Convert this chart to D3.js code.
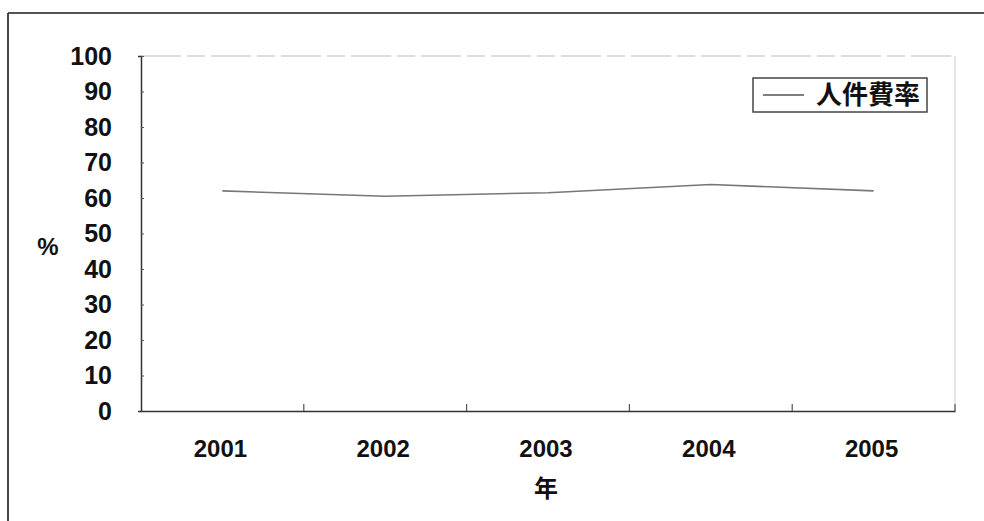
<!DOCTYPE html>
<html><head><meta charset="utf-8">
<script src="https://cdn.jsdelivr.net/npm/d3@7"></script>
<style>
body{margin:0;background:#fff;}
text{font-family:"Liberation Sans Narrow","Liberation Sans",Arial,sans-serif;font-weight:bold;fill:#111;}
.cjk{font-family:"Noto Sans CJK JP","Noto Sans CJK SC",sans-serif;font-weight:bold;}
</style></head>
<body>
<script>
const years = ["2001","2002","2003","2004","2005"];
const laborCostRatio = [62.0, 60.5, 61.5, 63.8, 62.0];
const yTicks = [0,10,20,30,40,50,60,70,80,90,100];
const seriesName = "人件費率";
const xTitle = "年";
const yTitle = "%";

const W = 984, H = 521;
const svg = d3.select("body").append("svg").attr("width", W).attr("height", H);

// outer frame
svg.append("line").attr("x1",8).attr("x2",W).attr("y1",13).attr("y2",13).attr("stroke","#555").attr("stroke-width",2);
svg.append("line").attr("x1",8).attr("x2",8).attr("y1",13).attr("y2",H).attr("stroke","#444").attr("stroke-width",2);

const L = 141, R = 955, T = 56, B = 411;
const x = d3.scaleBand().domain(years).range([L, R]);
const y = d3.scaleLinear().domain([0, 100]).range([B, T]);

// plot area top / right (faint)
svg.append("line").attr("x1",L).attr("x2",R).attr("y1",T).attr("y2",T).attr("stroke","#bbb").attr("stroke-width",1.2).attr("stroke-dasharray","40,6,18,6");
svg.append("line").attr("x1",R).attr("x2",R).attr("y1",T).attr("y2",B).attr("stroke","#ccc").attr("stroke-width",1);

// y axis
const yAxis = svg.append("g").attr("transform",`translate(${L},0)`)
  .call(d3.axisLeft(y).tickValues(yTicks).tickSize(3).tickPadding(26));
yAxis.select(".domain").attr("stroke","#333").attr("stroke-width",1.5);
yAxis.selectAll(".tick line").attr("stroke","#555").attr("x2",3).attr("x1",0);
yAxis.selectAll(".tick text").style("font-size","25px").attr("fill","#111");

// x axis
const xAxis = svg.append("g").attr("transform",`translate(0,${B})`)
  .call(d3.axisBottom(x).tickSize(0).tickPadding(29));
xAxis.select(".domain").attr("stroke","#333").attr("stroke-width",1.5);
xAxis.selectAll(".tick text").style("font-size","24px").attr("fill","#111").attr("dx","-2");
// between-category tick marks
svg.append("g").selectAll("line").data(years)
  .join("line")
  .attr("x1", d => x(d) + x.bandwidth()).attr("x2", d => x(d) + x.bandwidth())
  .attr("y1", B).attr("y2", B - 7).attr("stroke","#555").attr("stroke-width",1.2);

// line
const line = d3.line().x((d,i) => x(years[i]) + x.bandwidth()/2).y(d => y(d));
svg.append("path").datum(laborCostRatio).attr("d", line)
  .attr("fill","none").attr("stroke","#777").attr("stroke-width",1.6);

// titles
svg.append("text").attr("x",48).attr("y",255).attr("text-anchor","middle").style("font-size","24px").text(yTitle);
svg.append("text").attr("class","cjk").attr("x",546).attr("y",497).attr("text-anchor","middle").style("font-size","24px").text(xTitle);

// legend
const lg = svg.append("g");
lg.append("rect").attr("x",753).attr("y",78).attr("width",174).attr("height",34).attr("fill","#fff").attr("stroke","#444").attr("stroke-width",1.5);
lg.append("line").attr("x1",763).attr("x2",804).attr("y1",95).attr("y2",95).attr("stroke","#555").attr("stroke-width",1.5);
lg.append("text").attr("class","cjk").attr("x",816).attr("y",104).style("font-size","26px").text(seriesName);
</script>
</body></html>
